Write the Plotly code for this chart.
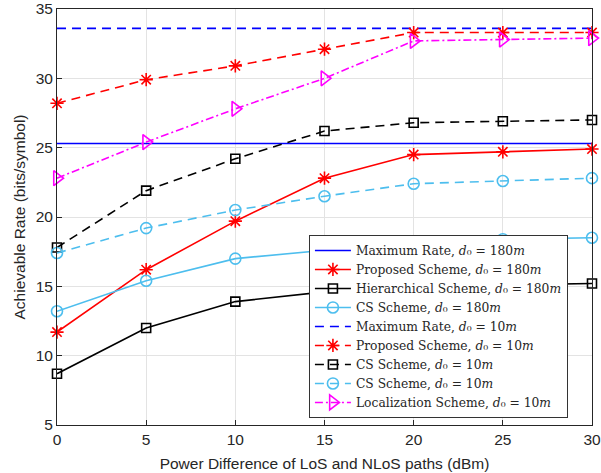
import plotly.graph_objects as go

x = [0, 5, 10, 15, 20, 25, 30]
max_rate_180 = [25.3] * 7
proposed_180 = [11.7, 16.2, 19.7, 22.8, 24.5, 24.7, 24.9]
hier_180 = [8.7, 12.0, 13.9, 14.6, 15.0, 15.1, 15.2]
cs_180 = [13.2, 15.4, 17.0, 17.6, 18.2, 18.4, 18.5]
max_rate_10 = [33.6] * 7
proposed_10 = [28.2, 29.9, 30.9, 32.1, 33.3, 33.3, 33.3]
cs_black_10 = [17.8, 21.9, 24.2, 26.2, 26.8, 26.9, 27.0]
cs_cyan_10 = [17.4, 19.2, 20.5, 21.5, 22.4, 22.6, 22.8]
loc_10 = [22.8, 25.4, 27.8, 30.0, 32.7, 32.8, 32.9]
y_ticks = [5, 10, 15, 20, 25, 30, 35]

BLUE = "#0000FF"
RED = "#FF0000"
BLACK = "#000000"
CYAN = "#4DBEEE"
MAG = "#FF00FF"
DASH = "9px,6px"
DASHDOT = "8px,3px,2px,3px"

def lab(name, d):
    return f"{name}, <i>d</i>\u2080 = {d}<i>m</i>"

series = [
    (lab("Maximum Rate", 180), max_rate_180, BLUE, "solid", None),
    (lab("Proposed Scheme", 180), proposed_180, RED, "solid", "asterisk-open"),
    (lab("Hierarchical Scheme", 180), hier_180, BLACK, "solid", "square-open"),
    (lab("CS Scheme", 180), cs_180, CYAN, "solid", "circle-open"),
    (lab("Maximum Rate", 10), max_rate_10, BLUE, DASH, None),
    (lab("Proposed Scheme", 10), proposed_10, RED, DASH, "asterisk-open"),
    (lab("CS Scheme", 10), cs_black_10, BLACK, DASH, "square-open"),
    (lab("CS Scheme", 10), cs_cyan_10, CYAN, DASH, "circle-open"),
    (lab("Localization Scheme", 10), loc_10, MAG, DASHDOT, "triangle-right-open"),
]

sizes = {"asterisk-open": 11, "square-open": 9, "circle-open": 11, "triangle-right-open": 13}

fig = go.Figure()
for name, y, color, dash, sym in series:
    fig.add_trace(go.Scatter(
        x=x, y=y, name=name, cliponaxis=False,
        mode="lines+markers" if sym else "lines",
        line=dict(color=color, width=1.6, dash=dash),
        marker=dict(symbol=sym or "circle", size=sizes.get(sym, 6), color=color,
                    line=dict(color=color, width=1.6)) if sym else None,
    ))

axis_common = dict(
    showgrid=True, gridcolor="#E3E3E3", gridwidth=1,
    showline=True, linecolor="#262626", linewidth=1, mirror=True,
    ticks="inside", ticklen=5, tickcolor="#262626",
    zeroline=False, automargin=False,
    tickfont=dict(family="Liberation Sans, Arial", size=15.5, color="#262626"),
)

fig.update_layout(
    width=601, height=473,
    margin=dict(l=57, r=9, t=9, b=48),
    paper_bgcolor="white", plot_bgcolor="white",
    xaxis=dict(range=[0, 30], tickvals=x, title=dict(
        text="Power Difference of LoS and NLoS paths (dBm)", standoff=11,
        font=dict(family="Liberation Sans, Arial", size=15.5, color="#262626")), **axis_common),
    yaxis=dict(range=[5, 35], tickvals=y_ticks, title=dict(
        text="Achievable Rate (bits/symbol)", standoff=6,
        font=dict(family="Liberation Sans, Arial", size=15.5, color="#262626")), **axis_common),
    legend=dict(
        x=0.955, y=0.017, xanchor="right", yanchor="bottom",
        bgcolor="white", bordercolor="#333333", borderwidth=1,
        font=dict(family="DejaVu Serif, Liberation Serif", size=12.3, color="#262626"),
        itemwidth=36, tracegroupgap=0,
    ),
    showlegend=True,
)

fig.write_html("out.html", config={"displayModeBar": False},
               post_script="document.body.style.margin='0px';document.body.style.padding='0px';")
